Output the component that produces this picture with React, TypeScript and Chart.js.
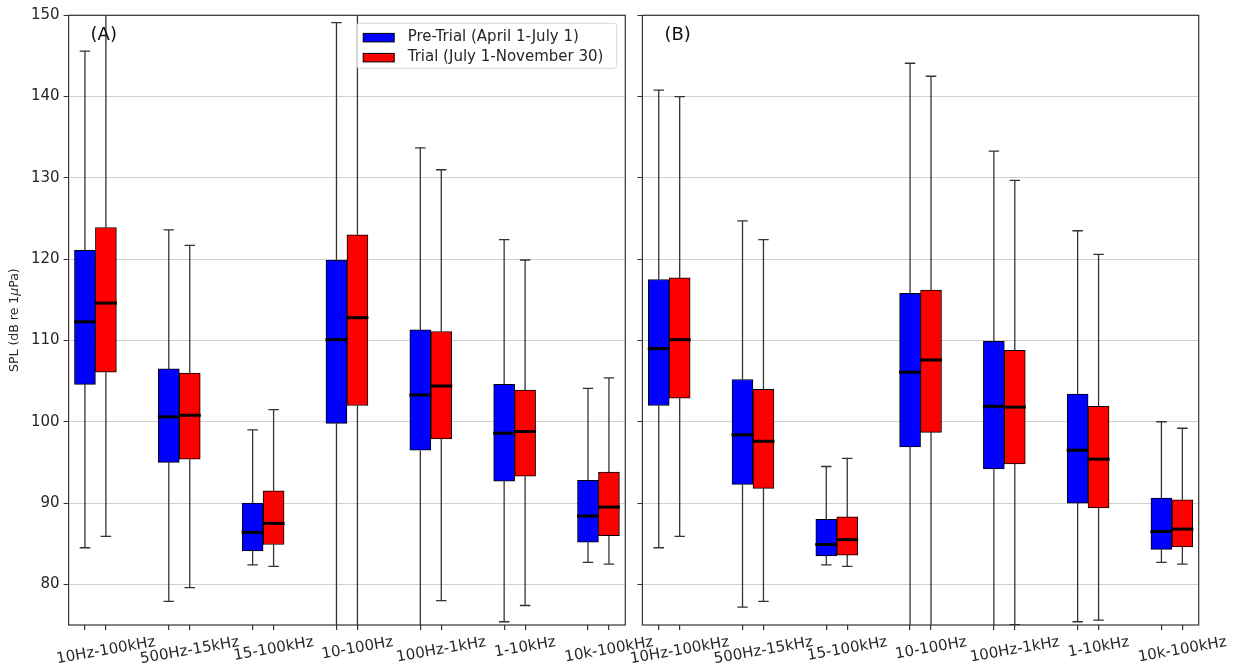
import React, { useEffect, useRef } from "react";
import { Chart, registerables } from "chart.js";

Chart.register(...registerables);

// ---------- data ----------
const groupLabels = ["10Hz-100kHz", "500Hz-15kHz", "15-100kHz", "10-100Hz", "100Hz-1kHz", "1-10kHz", "10k-100kHz"];
const prePositions = [1, 5, 9, 13, 17, 21, 25];
const trialPositions = [2, 6, 10, 14, 18, 22, 26];
const yTickValues = [80, 90, 100, 110, 120, 130, 140, 150];
const seriesNames = ["Pre-Trial (April 1-July 1)", "Trial (July 1-November 30)"];
const panelNames = ["(A)", "(B)"];
const yTitle = ["SPL (dB re 1", "\u03bc", "Pa)"];

// Panel A
const aPreMin = [84.5, 77.9, 82.4, 74, 74, 75.4, 82.7];
const aPreQ1 = [104.6, 95.0, 84.1, 99.8, 96.5, 92.7, 85.2];
const aPreMed = [112.3, 100.6, 86.4, 110.1, 103.3, 98.6, 88.4];
const aPreQ3 = [121.1, 106.5, 90.0, 119.9, 111.3, 104.6, 92.8];
const aPreMax = [145.6, 123.6, 99.0, 149.1, 133.7, 122.4, 104.1];
const aTrialMin = [85.9, 79.6, 82.2, 74, 78.0, 77.4, 82.5];
const aTrialQ1 = [106.1, 95.4, 84.9, 102.0, 97.9, 93.3, 86.0];
const aTrialMed = [114.6, 100.8, 87.5, 112.8, 104.4, 98.8, 89.5];
const aTrialQ3 = [123.9, 106.0, 91.5, 123.0, 111.1, 103.9, 93.8];
const aTrialMax = [151, 121.7, 101.5, 151, 131.0, 119.9, 105.4];

// Panel B
const bPreMin = [84.5, 77.2, 82.4, 74, 74, 75.4, 82.7];
const bPreQ1 = [102.0, 92.3, 83.5, 96.9, 94.2, 90.0, 84.3];
const bPreMed = [109.0, 98.4, 84.9, 106.1, 101.9, 96.5, 86.5];
const bPreQ3 = [117.5, 105.2, 88.0, 115.8, 109.9, 103.4, 90.6];
const bPreMax = [140.8, 124.7, 94.5, 144.1, 133.3, 123.5, 100.0];
const bTrialMin = [85.9, 77.9, 82.2, 74, 75.05, 75.6, 82.5];
const bTrialQ1 = [102.9, 91.8, 83.6, 98.7, 94.8, 89.4, 84.6];
const bTrialMed = [110.1, 97.6, 85.5, 107.6, 101.8, 95.4, 86.8];
const bTrialQ3 = [117.7, 104.0, 88.3, 116.2, 108.8, 101.9, 90.4];
const bTrialMax = [140.0, 122.4, 95.5, 142.5, 129.7, 120.6, 99.2];

// ---------- styling ----------
const FONT = '"DejaVu Sans", sans-serif';
const TEXT = "#262626";
const LINE = "#333333";
const PRE_COLOR = "#0000ff";
const TRIAL_COLOR = "#ff0000";

type Stats = { min: number[]; q1: number[]; med: number[]; q3: number[]; max: number[] };

function makeDataset(label: string, color: string, pos: number[], s: Stats) {
  return {
    label,
    data: pos.map((x, i) => ({ x, y: [s.q1[i], s.q3[i]] })),
    backgroundColor: color,
    borderColor: "#000",
    borderWidth: 1,
    borderSkipped: false,
    grouped: false,
    barPercentage: 1,
    categoryPercentage: 1,
    stats: s,
  } as any;
}

const boxPlugin = {
  id: "boxExtras",
  beforeDatasetsDraw(chart: any) {
    const { ctx, chartArea: a, scales } = chart;
    const x = scales.x, y = scales.y;
    ctx.save();
    ctx.beginPath();
    ctx.rect(a.left, a.top, a.right - a.left, a.bottom - a.top);
    ctx.clip();
    ctx.strokeStyle = LINE;
    ctx.lineWidth = 1.3;
    chart.data.datasets.forEach((ds: any, di: number) => {
      const meta = chart.getDatasetMeta(di);
      ds.data.forEach((d: any, i: number) => {
        const bar = meta.data[i];
        const px = x.getPixelForValue(d.x);
        const cw = bar.width / 4;
        const yHi = y.getPixelForValue(ds.stats.q3[i]);
        const yLo = y.getPixelForValue(ds.stats.q1[i]);
        const yMax = y.getPixelForValue(ds.stats.max[i]);
        const yMin = y.getPixelForValue(ds.stats.min[i]);
        ctx.beginPath();
        ctx.moveTo(px, yHi);
        ctx.lineTo(px, yMax);
        ctx.moveTo(px, yLo);
        ctx.lineTo(px, yMin);
        ctx.moveTo(px - cw, yMax);
        ctx.lineTo(px + cw, yMax);
        ctx.moveTo(px - cw, yMin);
        ctx.lineTo(px + cw, yMin);
        ctx.stroke();
      });
    });
    ctx.restore();
  },
  afterDatasetsDraw(chart: any, _args: any, opts: any) {
    const { ctx, chartArea: a, scales } = chart;
    const x = scales.x, y = scales.y;
    // medians
    ctx.save();
    ctx.strokeStyle = "#000";
    ctx.lineWidth = 3;
    chart.data.datasets.forEach((ds: any, di: number) => {
      const meta = chart.getDatasetMeta(di);
      ds.data.forEach((d: any, i: number) => {
        const bar = meta.data[i];
        const px = x.getPixelForValue(d.x);
        const py = y.getPixelForValue(ds.stats.med[i]);
        ctx.beginPath();
        ctx.moveTo(px - bar.width / 2 - 0.5, py);
        ctx.lineTo(px + bar.width / 2 + 0.5, py);
        ctx.stroke();
      });
    });
    ctx.restore();

    // frame
    ctx.save();
    ctx.strokeStyle = LINE;
    ctx.lineWidth = 1.2;
    ctx.strokeRect(a.left, a.top, a.right - a.left, a.bottom - a.top);
    ctx.restore();

    // panel label
    ctx.save();
    ctx.fillStyle = "#111";
    ctx.font = `18px ${FONT}`;
    ctx.textAlign = "left";
    ctx.textBaseline = "middle";
    ctx.fillText(opts.panelName, a.left + 22, a.top + 20.5);
    ctx.restore();

    // legend
    if (opts.legend) {
      ctx.save();
      ctx.font = `15px ${FONT}`;
      const right = a.right - 8.6;
      const top = a.top + 8;
      const w = 260;
      const h = 45;
      const left = right - w;
      const r = 3;
      ctx.beginPath();
      ctx.moveTo(left + r, top);
      ctx.lineTo(right - r, top);
      ctx.arcTo(right, top, right, top + r, r);
      ctx.lineTo(right, top + h - r);
      ctx.arcTo(right, top + h, right - r, top + h, r);
      ctx.lineTo(left + r, top + h);
      ctx.arcTo(left, top + h, left, top + h - r, r);
      ctx.lineTo(left, top + r);
      ctx.arcTo(left, top, left + r, top, r);
      ctx.closePath();
      ctx.fillStyle = "rgba(255,255,255,0.8)";
      ctx.fill();
      ctx.strokeStyle = "#d6d6d6";
      ctx.lineWidth = 1;
      ctx.stroke();
      chart.data.datasets.forEach((ds: any, di: number) => {
        const cy = top + 14.3 + di * 20;
        ctx.fillStyle = ds.backgroundColor;
        ctx.fillRect(left + 6.5, cy - 4.2, 31, 8.5);
        ctx.strokeStyle = "#000";
        ctx.lineWidth = 1;
        ctx.strokeRect(left + 6.5, cy - 4.2, 31, 8.5);
        ctx.fillStyle = TEXT;
        ctx.textAlign = "left";
        ctx.textBaseline = "middle";
        ctx.fillText(ds.label, left + 51, cy);
      });
      ctx.restore();
    }
  },
  afterDraw(chart: any, _args: any, opts: any) {
    const { ctx, chartArea: a, scales } = chart;
    const x = scales.x;
    // rotated category labels (matplotlib-like centred rotation)
    ctx.save();
    const fs = 15;
    ctx.font = `${fs}px ${FONT}`;
    ctx.fillStyle = TEXT;
    ctx.textAlign = "center";
    ctx.textBaseline = "middle";
    const th = (10 * Math.PI) / 180;
    groupLabels.forEach((lab, i) => {
      const px = x.getPixelForValue(trialPositions[i]);
      const w = ctx.measureText(lab).width;
      const H = w * Math.sin(th) + fs * 1.15 * Math.cos(th);
      const cy = a.bottom + 5 + 3.5 + H / 2;
      ctx.save();
      ctx.translate(px, cy);
      ctx.rotate(-th);
      ctx.fillText(lab, 0, 0);
      ctx.restore();
    });
    ctx.restore();

    // y-axis title
    if (opts.yTitle) {
      ctx.save();
      const cx = 14.5;
      const cy = (a.top + a.bottom) / 2;
      ctx.translate(cx, cy);
      ctx.rotate(-Math.PI / 2);
      ctx.fillStyle = TEXT;
      ctx.textBaseline = "middle";
      const f1 = `12.5px ${FONT}`;
      const f2 = `italic 12.5px ${FONT}`;
      ctx.font = f1;
      const w0 = ctx.measureText(yTitle[0]).width;
      const w2 = ctx.measureText(yTitle[2]).width;
      ctx.font = f2;
      const w1 = ctx.measureText(yTitle[1]).width;
      let sx = -(w0 + w1 + w2) / 2;
      ctx.textAlign = "left";
      ctx.font = f1;
      ctx.fillText(yTitle[0], sx, 0);
      sx += w0;
      ctx.font = f2;
      ctx.fillText(yTitle[1], sx, 0);
      sx += w1;
      ctx.font = f1;
      ctx.fillText(yTitle[2], sx, 0);
      ctx.restore();
    }
  },
};

function makeConfig(pre: Stats, trial: Stats, panel: number) {
  const isA = panel === 0;
  const allPos = [...prePositions, ...trialPositions].sort((p, q) => p - q);
  return {
    type: "bar",
    data: {
      datasets: [
        makeDataset(seriesNames[0], PRE_COLOR, prePositions, pre),
        makeDataset(seriesNames[1], TRIAL_COLOR, trialPositions, trial),
      ],
    },
    plugins: [boxPlugin],
    options: {
      responsive: false,
      animation: false,
      events: [],
      layout: {
        padding: isA
          ? { left: 0, right: 700 - 625.3, top: 15.3, bottom: 0 }
          : { left: 30, right: 637 - 598.7, top: 15.3, bottom: 0 },
      },
      plugins: {
        legend: { display: false },
        tooltip: { enabled: false },
        title: { display: false },
        boxExtras: { legend: isA, yTitle: isA, panelName: panelNames[panel] },
      },
      scales: {
        x: {
          type: "linear",
          min: 0.22,
          max: 26.78,
          bounds: "data",
          offset: false,
          afterBuildTicks: (s: any) => {
            s.ticks = allPos.map((v) => ({ value: v }));
          },
          afterFit: (s: any) => {
            s.height = 669 - 625;
          },
          grid: { offset: false, drawOnChartArea: false, drawTicks: true, tickLength: 5, tickColor: LINE, lineWidth: 1.2 },
          border: { display: false },
          ticks: { display: false },
        },
        y: {
          type: "linear",
          min: 75,
          max: 150,
          bounds: "data",
          afterBuildTicks: (s: any) => {
            s.ticks = yTickValues.map((v) => ({ value: v }));
          },
          afterFit: (s: any) => {
            s.width = isA ? 68.6 : 12.4;
          },
          grid: { color: "#d0d0d0", lineWidth: 1, drawTicks: true, tickLength: 5, tickColor: LINE },
          border: { display: false },
          ticks: {
            display: isA,
            font: { family: FONT, size: 15 },
            color: TEXT,
            padding: 4,
            autoSkip: false,
          },
        },
      },
    },
  } as any;
}

function Panel({ pre, trial, panel, left, width }: { pre: Stats; trial: Stats; panel: number; left: number; width: number }) {
  const ref = useRef<HTMLCanvasElement | null>(null);
  useEffect(() => {
    if (!ref.current) return;
    const chart = new Chart(ref.current, makeConfig(pre, trial, panel));
    return () => chart.destroy();
  }, []);
  return (
    <canvas
      ref={ref}
      width={width}
      height={669}
      style={{ position: "absolute", left, top: 0, width, height: 669 }}
    />
  );
}

export default function App() {
  const aPre: Stats = { min: aPreMin, q1: aPreQ1, med: aPreMed, q3: aPreQ3, max: aPreMax };
  const aTrial: Stats = { min: aTrialMin, q1: aTrialQ1, med: aTrialMed, q3: aTrialQ3, max: aTrialMax };
  const bPre: Stats = { min: bPreMin, q1: bPreQ1, med: bPreMed, q3: bPreQ3, max: bPreMax };
  const bTrial: Stats = { min: bTrialMin, q1: bTrialQ1, med: bTrialMed, q3: bTrialQ3, max: bTrialMax };
  return (
    <div style={{ position: "absolute", left: 0, top: 0, width: 1237, height: 669, background: "#fff", overflow: "hidden" }}>
      <Panel pre={aPre} trial={aTrial} panel={0} left={0} width={700} />
      <Panel pre={bPre} trial={bTrial} panel={1} left={600} width={637} />
    </div>
  );
}
